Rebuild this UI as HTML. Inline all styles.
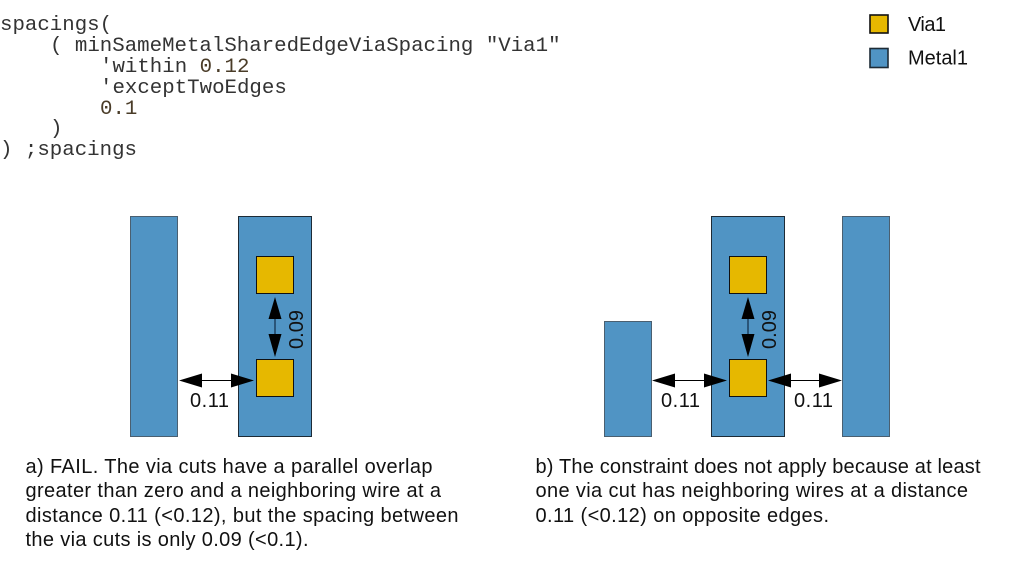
<!DOCTYPE html>
<html><head><meta charset="utf-8">
<style>
html,body{margin:0;padding:0;background:#fff;width:1013px;height:574px;overflow:hidden}
svg{display:block}
.c{font-family:"Liberation Mono",monospace;font-size:20.75px;fill:#333}
.s{font-family:"Liberation Sans",sans-serif;font-size:20px;fill:#111}
.m{fill:#5094c4;stroke:#1d2b36;stroke-width:1}
.g{stroke:#4a5f70}
.v{fill:#e6b800;stroke:#111;stroke-width:1}
.l{stroke-width:1.6}
</style></head><body>
<svg width="1013" height="574" viewBox="0 0 1013 574" xmlns="http://www.w3.org/2000/svg">
<g class="c" xml:space="preserve">
<text x="0" y="30">spacings(</text>
<text x="50" y="51">( minSameMetalSharedEdgeViaSpacing "Via1"</text>
<text x="100" y="72">'within <tspan fill="#4a3c28">0.12</tspan></text>
<text x="100" y="93">'exceptTwoEdges</text>
<text x="100" y="114" fill="#4a3c28">0.1</text>
<text x="50" y="134">)</text>
<text x="0" y="155">) ;spacings</text>
</g>
<rect class="v l" x="870" y="15" width="18" height="18"/>
<rect class="m l" x="870" y="48.5" width="18" height="19"/>
<text class="s" x="908" y="31" textLength="38" lengthAdjust="spacing">Via1</text>
<text class="s" x="908" y="64.5" textLength="60" lengthAdjust="spacing">Metal1</text>

<rect class="m g" x="130.5" y="216.5" width="47" height="220"/>
<rect class="m" x="238.5" y="216.5" width="73" height="220"/>
<rect class="v" x="256.5" y="256.5" width="37" height="37"/>
<rect class="v" x="256.5" y="359.5" width="37" height="37"/>
<line x1="275" y1="310" x2="275" y2="345" stroke="#1d4060" stroke-width="1.5"/>
<path d="M275 297L281.5 319H268.5Z M275 357L281.5 334H268.5Z" fill="#000"/>
<line x1="190" y1="380.5" x2="245" y2="380.5" stroke="#000" stroke-width="1"/>
<path d="M179 380.5L202 373.5V387.5Z M254 380.5L231 373.5V387.5Z" fill="#000"/>
<text class="s" x="190" y="407" textLength="39" lengthAdjust="spacing">0.11</text>
<text class="s" transform="translate(303,349) rotate(-90)" textLength="39" lengthAdjust="spacing">0.09</text>

<rect class="m g" x="604.5" y="321.5" width="47" height="115"/>
<rect class="m" x="711.5" y="216.5" width="73" height="220"/>
<rect class="m g" x="842.5" y="216.5" width="47" height="220"/>
<rect class="v" x="729.5" y="256.5" width="37" height="37"/>
<rect class="v" x="729.5" y="359.5" width="37" height="37"/>
<line x1="748" y1="310" x2="748" y2="345" stroke="#1d4060" stroke-width="1.5"/>
<path d="M748 297L754.5 319H741.5Z M748 357L754.5 334H741.5Z" fill="#000"/>
<line x1="663" y1="380.5" x2="718" y2="380.5" stroke="#000" stroke-width="1"/>
<path d="M652 380.5L675 373.5V387.5Z M727 380.5L704 373.5V387.5Z" fill="#000"/>
<line x1="780" y1="380.5" x2="830" y2="380.5" stroke="#000" stroke-width="1"/>
<path d="M768 380.5L791 373.5V387.5Z M842 380.5L819 373.5V387.5Z" fill="#000"/>
<text class="s" x="661" y="407" textLength="39" lengthAdjust="spacing">0.11</text>
<text class="s" x="794" y="407" textLength="39" lengthAdjust="spacing">0.11</text>
<text class="s" transform="translate(776,349) rotate(-90)" textLength="39" lengthAdjust="spacing">0.09</text>

<g class="s">
<text x="25.5" y="473" textLength="407" lengthAdjust="spacing">a) FAIL. The via cuts have a parallel overlap</text>
<text x="25.5" y="497" textLength="415.5" lengthAdjust="spacing">greater than zero and a neighboring wire at a</text>
<text x="25.5" y="522" textLength="433" lengthAdjust="spacing">distance 0.11 (&lt;0.12), but the spacing between</text>
<text x="25.5" y="546" textLength="283" lengthAdjust="spacing">the via cuts is only 0.09 (&lt;0.1).</text>
<text x="535.5" y="473" textLength="445" lengthAdjust="spacing">b) The constraint does not apply because at least</text>
<text x="535.5" y="497" textLength="432.5" lengthAdjust="spacing">one via cut has neighboring wires at a distance</text>
<text x="535.5" y="522" textLength="293.5" lengthAdjust="spacing">0.11 (&lt;0.12) on opposite edges.</text>
</g>
</svg>
</body></html>
